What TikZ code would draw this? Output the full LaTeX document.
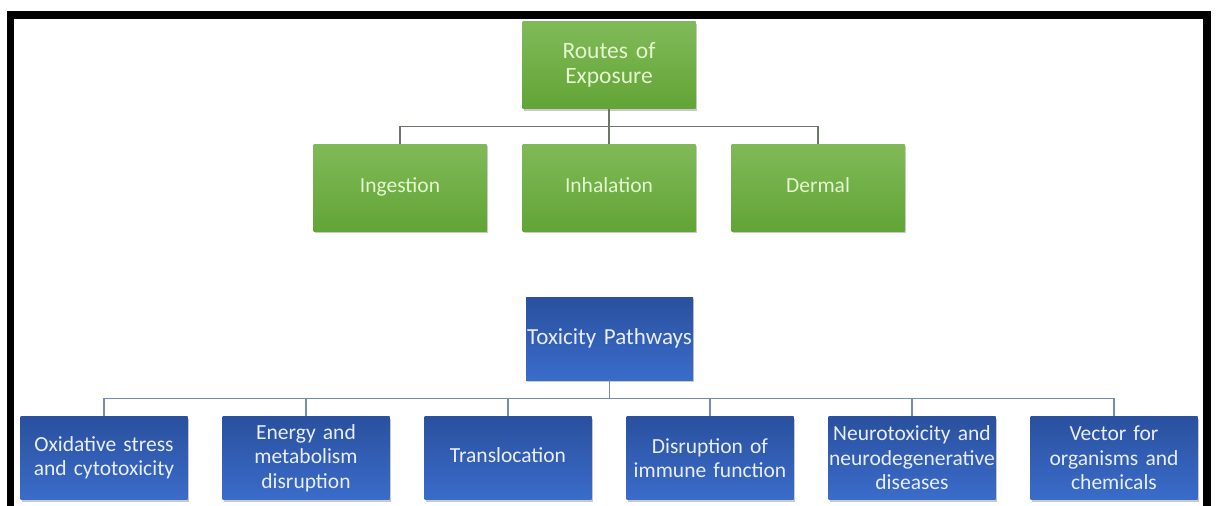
\documentclass[tikz,border=0pt]{standalone}
\usepackage{fontspec}
\setmainfont{Carlito}[WordSpace=0.85]
\usepackage{tikz}
\usetikzlibrary{shadows}
\definecolor{routesTop}{RGB}{128,186,88}
\definecolor{routesBot}{RGB}{98,164,54}
\definecolor{routesText}{RGB}{228,246,206}
\definecolor{toxTop}{RGB}{42,80,158}
\definecolor{toxBot}{RGB}{58,108,202}
\definecolor{toxText}{RGB}{232,238,252}
\definecolor{greenLine}{RGB}{110,118,108}
\definecolor{blueLine}{RGB}{118,138,182}

\begin{document}
\begin{tikzpicture}[x=1pt, y=-1pt,
	greenbox/.style={rectangle, inner sep=0pt, minimum width=173pt, minimum height=87pt,
		top color=routesTop, bottom color=routesBot, text=routesText,
		text width=170pt, align=center, font=\fontsize{21.5}{24.5}\selectfont,
		drop shadow={shadow xshift=1pt, shadow yshift=-2pt, opacity=0.35, fill=black!60}},
	bluebox/.style={rectangle, inner sep=0pt, minimum width=167pt, minimum height=83pt,
		top color=toxTop, bottom color=toxBot, text=toxText,
		text width=166pt, align=center, font=\fontsize{21.5}{24.5}\selectfont,
		drop shadow={shadow xshift=1pt, shadow yshift=-2pt, opacity=0.35, fill=black!60}},
	greenwire/.style={draw=greenLine, line width=1.4pt},
	bluewire/.style={draw=blueLine, line width=1.4pt}]

	\useasboundingbox (0,0) rectangle (1216,506);
	\fill[white] (0,0) rectangle (1216,506);

	% frame
	\draw[black, line width=7.5pt] (10.5,506) -- (10.5,15) -- (1207,15) -- (1207,506);

	% routes of exposure
	\node[greenbox, font=\fontsize{23.5}{25}\selectfont] (routes) at (609,65) {Routes of\\Exposure};
	\node[greenbox] (ingest) at (400,187.5) {\strut Ingestion};
	\node[greenbox] (inhale) at (609,187.5) {\strut Inhalation};
	\node[greenbox] (dermal) at (818,187.5) {\strut Dermal};

	\draw[greenwire] (routes.south) -- ++(0,18) -| (ingest.north);
	\draw[greenwire] (routes.south) -- ++(0,18) -| (dermal.north);
	\draw[greenwire] (routes.south) -- (inhale.north);

	% toxicity pathways
	\node[bluebox, font=\fontsize{23}{25}\selectfont] (tox) at (609.5,338.5) {Toxicity Pathways};
	\node[bluebox] (oxid) at (104,458) {Oxidative stress\\and cytotoxicity};
	\node[bluebox] (energy) at (306,458) {Energy and\\metabolism\\disruption};
	\node[bluebox] (transl) at (508,458) {\strut Translocation};
	\node[bluebox] (immune) at (710,458) {Disruption of\\immune function};
	\node[bluebox] (neuro) at (912,458) {Neurotoxicity and\\neurodegenerative\\diseases};
	\node[bluebox] (vector) at (1114,458) {Vector for\\organisms and\\chemicals};

	\draw[bluewire] (tox.south) -- ++(0,18) -| (oxid.north);
	\draw[bluewire] (tox.south) -- ++(0,18) -| (energy.north);
	\draw[bluewire] (tox.south) -- ++(0,18) -| (transl.north);
	\draw[bluewire] (tox.south) -- ++(0,18) -| (immune.north);
	\draw[bluewire] (tox.south) -- ++(0,18) -| (neuro.north);
	\draw[bluewire] (tox.south) -- ++(0,18) -| (vector.north);

\end{tikzpicture}
\end{document}
